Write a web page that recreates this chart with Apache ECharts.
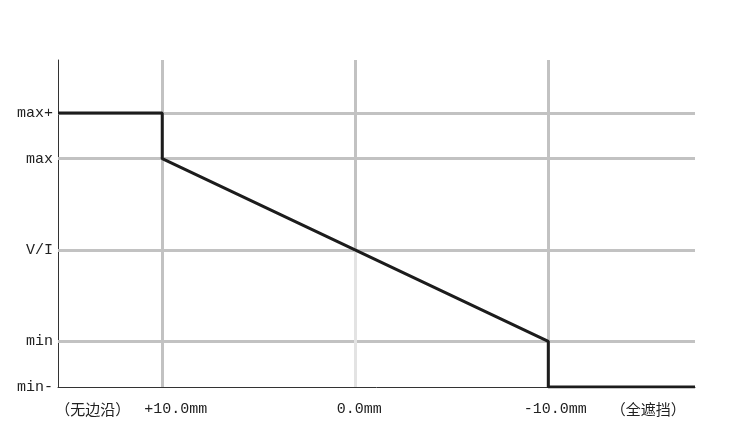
<!DOCTYPE html>
<html><head><meta charset="utf-8">
<script src="https://cdn.jsdelivr.net/npm/echarts@6/dist/echarts.min.js"></script>
<style>html,body{margin:0;padding:0;background:#fff}#c{width:731px;height:438px}</style>
</head><body><div id="c"></div>
<script>
// Y levels (names and their positions on the value scale)
const levelNames = ['min-', 'min', 'V/I', 'max', 'max+'];
const levelValues = [-3, -2, 0, 2, 3];
// X ticks (mm)
const xTicks = [10, 0, -10];
const xTickMain = ['+10.0mm', '0.0mm', '-10.0mm'];
const xTickNote = ['（无边沿）', '', '（全遮挡）'];
// Characteristic curve
const curveX = [15.4, 10, 10, -10, -10, -17.6];
const curveLevel = ['max+', 'max+', 'max', 'min', 'min-', 'min-'];

const lv = n => levelValues[levelNames.indexOf(n)];
const curve = curveX.map((x, i) => [x, lv(curveLevel[i])]);
const X_MIN = -17.6, X_MAX = 15.4, Y_MIN = -3, Y_MAX = 4.16;
const font = '"Liberation Mono", "Noto Sans CJK SC", monospace';
const cjk = '"Noto Sans CJK SC", sans-serif';
const gridColor = '#c2c2c2';

const markData = [];
[-2, 0, 2, 3].forEach(v => markData.push([{coord: [X_MAX, v]}, {coord: [X_MIN, v]}]));
markData.push([{coord: [10, Y_MAX]}, {coord: [10, Y_MIN]}]);
markData.push([{coord: [-10, Y_MAX]}, {coord: [-10, Y_MIN]}]);
markData.push([{coord: [0, Y_MAX]}, {coord: [0, 0]}]);
markData.push([{coord: [0, 0]}, {coord: [0, Y_MIN], lineStyle: {color: '#e3e3e3'}}]);

const chart = echarts.init(document.getElementById('c'));
chart.setOption({
  animation: false,
  grid: {left: 58, right: 36, top: 60, bottom: 51},
  xAxis: {
    type: 'value', inverse: true, min: X_MIN, max: X_MAX,
    axisLine: {show: true, onZero: false, lineStyle: {color: '#333', width: 1}},
    axisTick: {show: false},
    splitLine: {show: false},
    axisLabel: {
      customValues: xTicks,
      margin: 15,
      color: '#222', fontSize: 15, fontFamily: font,
      formatter: v => {
        const i = xTicks.indexOf(v);
        if (i === 0) return '{c|' + xTickNote[0] + '}{g1| }{m|' + xTickMain[0] + '}{r62| }';
        if (i === 1) return '{r8| }{m|' + xTickMain[1] + '}';
        if (i === 2) return '{r113| }{m|' + xTickMain[2] + '}{g2| }{c|' + xTickNote[2] + '}';
        return '';
      },
      rich: {
        m: {fontSize: 15, fontFamily: font, color: '#222'},
        c: {fontSize: 15, fontFamily: cjk, color: '#222'},
        g1: {width: 14}, g2: {width: 24},
        r62: {width: 62}, r8: {width: 8}, r113: {width: 113}
      }
    }
  },
  yAxis: {
    type: 'value', min: Y_MIN, max: Y_MAX,
    axisLine: {show: true, onZero: false, lineStyle: {color: '#333', width: 1}},
    axisTick: {show: false},
    splitLine: {show: false},
    axisLabel: {
      customValues: levelValues,
      margin: 5,
      color: '#222', fontSize: 15, fontFamily: font,
      formatter: v => {
        const i = levelValues.indexOf(v);
        return i >= 0 ? levelNames[i] : '';
      }
    }
  },
  series: [
    {
      type: 'line', data: [], z: 1, silent: true,
      markLine: {
        silent: true, symbol: ['none', 'none'], animation: false,
        label: {show: false},
        lineStyle: {color: gridColor, width: 3, type: 'solid'},
        data: markData
      }
    },
    {
      type: 'line', data: curve, z: 5, showSymbol: false, symbol: 'none',
      lineStyle: {color: '#1c1c1c', width: 3}, silent: true
    }
  ]
});
</script></body></html>
